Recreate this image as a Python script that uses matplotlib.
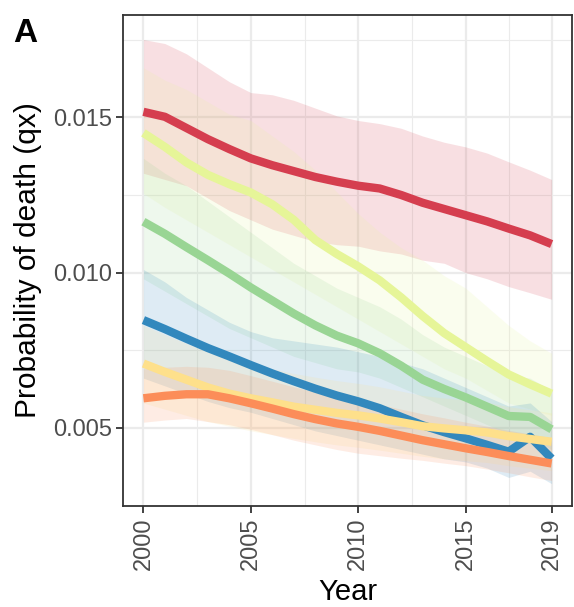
import numpy as np
import matplotlib
matplotlib.use("Agg")
import matplotlib.pyplot as plt

plt.rcParams['font.family'] = ['Liberation Sans', 'DejaVu Sans']

years = list(range(2000, 2020))

# Spectral palette, one colour per group
colors = ["#D53E4F", "#E6F598", "#99D594", "#3288BD", "#FEE08B", "#FC8D59"]

red_mid = [0.01518, 0.01502, 0.01466, 0.01430, 0.01398, 0.01368, 0.01346, 0.01327, 0.01308, 0.01293,
           0.01280, 0.01271, 0.01250, 0.01225, 0.01205, 0.01185, 0.01165, 0.01142, 0.01120, 0.01092]
red_lo = [0.01320, 0.01300, 0.01280, 0.01240, 0.01200, 0.01170, 0.01140, 0.01120, 0.01100, 0.01090,
          0.01085, 0.01070, 0.01060, 0.01040, 0.01030, 0.01000, 0.00980, 0.00955, 0.00935, 0.00914]
red_hi = [0.01751, 0.01738, 0.01705, 0.01660, 0.01615, 0.01580, 0.01573, 0.01555, 0.01530, 0.01505,
          0.01490, 0.01480, 0.01465, 0.01440, 0.01420, 0.01405, 0.01385, 0.01357, 0.01330, 0.01300]

yg_mid = [0.01450, 0.01405, 0.01355, 0.01315, 0.01285, 0.01258, 0.01220, 0.01170, 0.01105, 0.01060,
          0.01020, 0.00975, 0.00920, 0.00860, 0.00805, 0.00760, 0.00715, 0.00672, 0.00640, 0.00610]
yg_lo = [0.01255, 0.01210, 0.01170, 0.01130, 0.01090, 0.01050, 0.01010, 0.00970, 0.00930, 0.00890,
         0.00850, 0.00810, 0.00770, 0.00730, 0.00690, 0.00660, 0.00620, 0.00580, 0.00560, 0.00540]
yg_hi = [0.01660, 0.01620, 0.01590, 0.01550, 0.01510, 0.01490, 0.01440, 0.01390, 0.01330, 0.01260,
         0.01190, 0.01130, 0.01080, 0.01040, 0.00990, 0.00950, 0.00890, 0.00830, 0.00780, 0.00740]

gr_mid = [0.01164, 0.01125, 0.01082, 0.01040, 0.00997, 0.00952, 0.00910, 0.00868, 0.00830, 0.00797,
          0.00772, 0.00740, 0.00700, 0.00655, 0.00625, 0.00598, 0.00568, 0.00538, 0.00535, 0.00495]
gr_lo = [0.00980, 0.00940, 0.00900, 0.00860, 0.00820, 0.00790, 0.00760, 0.00730, 0.00710, 0.00690,
         0.00680, 0.00660, 0.00630, 0.00600, 0.00570, 0.00540, 0.00510, 0.00480, 0.00470, 0.00430]
gr_hi = [0.01368, 0.01320, 0.01280, 0.01230, 0.01180, 0.01130, 0.01080, 0.01030, 0.00990, 0.00950,
         0.00920, 0.00890, 0.00850, 0.00800, 0.00760, 0.00730, 0.00700, 0.00670, 0.00660, 0.00620]

bl_mid = [0.00847, 0.00818, 0.00787, 0.00757, 0.00730, 0.00702, 0.00675, 0.00650, 0.00626, 0.00604,
          0.00585, 0.00563, 0.00535, 0.00508, 0.00486, 0.00466, 0.00445, 0.00423, 0.00471, 0.00401]
bl_lo = [0.00660, 0.00635, 0.00610, 0.00585, 0.00565, 0.00550, 0.00530, 0.00510, 0.00490, 0.00475,
         0.00460, 0.00445, 0.00430, 0.00415, 0.00400, 0.00390, 0.00370, 0.00340, 0.00360, 0.00320]
bl_hi = [0.01010, 0.00970, 0.00920, 0.00880, 0.00840, 0.00810, 0.00790, 0.00780, 0.00770, 0.00760,
         0.00745, 0.00730, 0.00710, 0.00690, 0.00660, 0.00630, 0.00600, 0.00570, 0.00580, 0.00520]

ye_mid = [0.00707, 0.00680, 0.00655, 0.00630, 0.00610, 0.00595, 0.00582, 0.00568, 0.00558, 0.00548,
          0.00540, 0.00530, 0.00518, 0.00505, 0.00498, 0.00492, 0.00485, 0.00473, 0.00464, 0.00455]
ye_lo = [0.00580, 0.00560, 0.00540, 0.00520, 0.00505, 0.00490, 0.00478, 0.00466, 0.00455, 0.00445,
         0.00437, 0.00428, 0.00418, 0.00408, 0.00400, 0.00394, 0.00388, 0.00378, 0.00370, 0.00362]
ye_hi = [0.00830, 0.00800, 0.00772, 0.00745, 0.00722, 0.00705, 0.00690, 0.00675, 0.00663, 0.00652,
         0.00643, 0.00632, 0.00618, 0.00604, 0.00596, 0.00590, 0.00582, 0.00568, 0.00558, 0.00548]

or_mid = [0.00595, 0.00603, 0.00608, 0.00608, 0.00595, 0.00579, 0.00562, 0.00544, 0.00528, 0.00514,
          0.00503, 0.00490, 0.00475, 0.00460, 0.00447, 0.00434, 0.00422, 0.00409, 0.00397, 0.00385]
or_lo = [0.00518, 0.00525, 0.00530, 0.00520, 0.00510, 0.00495, 0.00478, 0.00460, 0.00445, 0.00430,
         0.00418, 0.00410, 0.00402, 0.00395, 0.00386, 0.00378, 0.00367, 0.00355, 0.00342, 0.00330]
or_hi = [0.00690, 0.00695, 0.00698, 0.00695, 0.00685, 0.00668, 0.00650, 0.00632, 0.00615, 0.00600,
         0.00588, 0.00575, 0.00560, 0.00545, 0.00532, 0.00518, 0.00505, 0.00492, 0.00480, 0.00468]

mids = [red_mid, yg_mid, gr_mid, bl_mid, ye_mid, or_mid]
los = [red_lo, yg_lo, gr_lo, bl_lo, ye_lo, or_lo]
his = [red_hi, yg_hi, gr_hi, bl_hi, ye_hi, or_hi]

fig = plt.figure(figsize=(5.74, 6.07), dpi=100)
ax = fig.add_axes([123 / 574, 1 - 506 / 607, (572 - 123) / 574, (506 - 15) / 607])

for c, lo, hi in zip(colors, los, his):
    ax.fill_between(years, lo, hi, color=c, alpha=0.16, linewidth=0, zorder=2)
for c, m in zip(colors, mids):
    ax.plot(years, m, color=c, linewidth=6, solid_capstyle='butt',
            solid_joinstyle='round', zorder=3)

ax.set_xlim(1999.05, 2019.95)
ax.set_ylim(0.00248, 0.0183)
ax.set_xticks([2000, 2005, 2010, 2015, 2019])
ax.set_xticks([2002.5, 2007.5, 2012.5, 2017], minor=True)
ax.set_yticks([0.005, 0.010, 0.015])
ax.set_yticks([0.0075, 0.0125, 0.0175], minor=True)
ax.set_yticklabels(["0.005", "0.010", "0.015"])

ax.grid(which='major', color='#EBEBEB', linewidth=1.6, zorder=0)
ax.grid(which='minor', color='#EBEBEB', linewidth=0.8, zorder=0)
ax.set_axisbelow(True)

for s in ax.spines.values():
    s.set_color('#333333')
    s.set_linewidth(1.3)

ax.tick_params(which='major', length=5, width=1.3, color='#333333',
               labelsize=17, labelcolor='#4D4D4D', pad=3)
ax.tick_params(which='minor', length=0)
plt.setp(ax.get_xticklabels(), rotation=90, va='top', ha='center')

ax.set_xlabel("Year", fontsize=21, color='black', labelpad=6)
ax.set_ylabel("Probability of death (qx)", fontsize=21.5, color='black', labelpad=8)

fig.text(13 / 574, 1 - 33 / 607, "A", fontsize=24, fontweight='bold', va='center', ha='left')

fig.savefig("out.png", dpi=100)
